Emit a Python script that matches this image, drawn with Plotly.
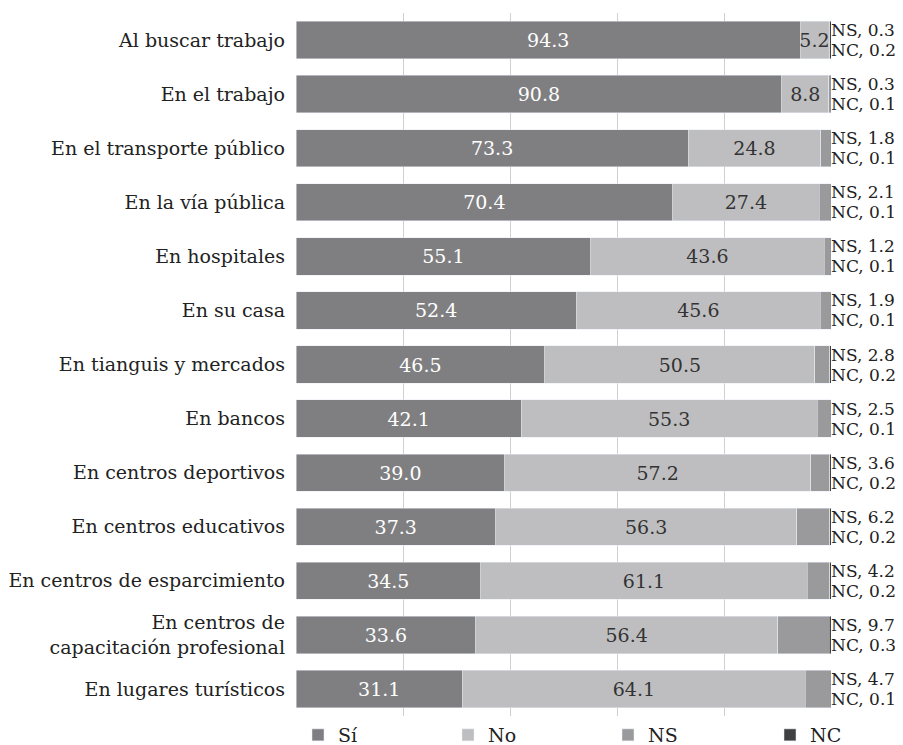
import plotly.graph_objects as go

categories = ["Al buscar trabajo", "En el trabajo", "En el transporte público", "En la vía pública",
              "En hospitales", "En su casa", "En tianguis y mercados", "En bancos",
              "En centros deportivos", "En centros educativos", "En centros de esparcimiento",
              "En centros de<br>capacitación profesional", "En lugares turísticos"]
si = [94.3, 90.8, 73.3, 70.4, 55.1, 52.4, 46.5, 42.1, 39.0, 37.3, 34.5, 33.6, 31.1]
no = [5.2, 8.8, 24.8, 27.4, 43.6, 45.6, 50.5, 55.3, 57.2, 56.3, 61.1, 56.4, 64.1]
ns = [0.3, 0.3, 1.8, 2.1, 1.2, 1.9, 2.8, 2.5, 3.6, 6.2, 4.2, 9.7, 4.7]
nc = [0.2, 0.1, 0.1, 0.1, 0.1, 0.1, 0.2, 0.1, 0.2, 0.2, 0.2, 0.3, 0.1]

FONT = "DejaVu Serif"
OFF = 8  # page body margin
W, H = 903 - OFF, 745 - OFF
ML, MR, MT, MB = 296 - OFF, 72, 13 - OFF, 0
plot_bottom = 716 - OFF
paper_w = W - ML - MR
paper_h = H - MT - MB
dom_low = (H - MB - plot_bottom) / paper_h

fig = go.Figure()
fig.add_trace(go.Bar(y=categories, x=si, name="Sí", orientation="h", marker_color="#7f7f82",
                     text=[f"{v:.1f}" for v in si], textposition="inside", insidetextanchor="middle",
                     textangle=0, constraintext="none", legend="legend",
                     textfont=dict(color="white", size=19, family=FONT)))
fig.add_trace(go.Bar(y=categories, x=no, name="No", orientation="h", marker_color="#bebec0",
                     text=[f"{v:.1f}" for v in no], textposition="inside", insidetextanchor="middle",
                     textangle=0, constraintext="none", legend="legend2",
                     textfont=dict(color="#333333", size=19, family=FONT)))
fig.add_trace(go.Bar(y=categories, x=ns, name="NS", orientation="h", marker_color="#9a9a9c",
                     legend="legend3"))
fig.add_trace(go.Bar(y=categories, x=nc, name="NC", orientation="h", marker_color="#404040",
                     legend="legend4"))

for c, a, b in zip(categories, ns, nc):
    fig.add_annotation(x=100, y=c, xref="x", yref="y", text=f"NS, {a}",
                       showarrow=False, xanchor="left", yanchor="middle", yshift=10, xshift=-2,
                       font=dict(size=17, family=FONT, color="#222"))
    fig.add_annotation(x=100, y=c, xref="x", yref="y", text=f"NC, {b}",
                       showarrow=False, xanchor="left", yanchor="middle", yshift=-10, xshift=-2,
                       font=dict(size=17, family=FONT, color="#222"))

# legend symbol screen positions (left edge of square) in the reference
legend_sq = [317, 467, 627, 789]
leg_y = (H - MB - (735 - OFF)) / paper_h
legends = {}
for i, sx in enumerate(legend_sq):
    box_left = sx - 15 - 4 - OFF
    key = "legend" if i == 0 else f"legend{i + 1}"
    legends[key] = dict(orientation="h", x=(box_left - ML) / paper_w, y=leg_y,
                        xanchor="left", yanchor="middle", bgcolor="rgba(0,0,0,0)",
                        font=dict(size=19, family=FONT, color="#222"), itemwidth=30)

fig.update_layout(
    barmode="stack", bargap=0.31,
    width=W, height=H,
    margin=dict(l=ML, r=MR, t=MT, b=MB, autoexpand=False),
    paper_bgcolor="white", plot_bgcolor="white",
    font=dict(family=FONT, size=19, color="#222"),
    showlegend=True,
    xaxis=dict(range=[0, 100], dtick=20, showgrid=True, gridcolor="#d0d0d0", gridwidth=1,
               showticklabels=False, zeroline=False, ticks="", automargin=False),
    yaxis=dict(autorange="reversed", showgrid=False, ticks="", automargin=False,
               domain=[dom_low, 1], ticklabelstandoff=10),
    **legends,
)
fig.write_html("out.html")
